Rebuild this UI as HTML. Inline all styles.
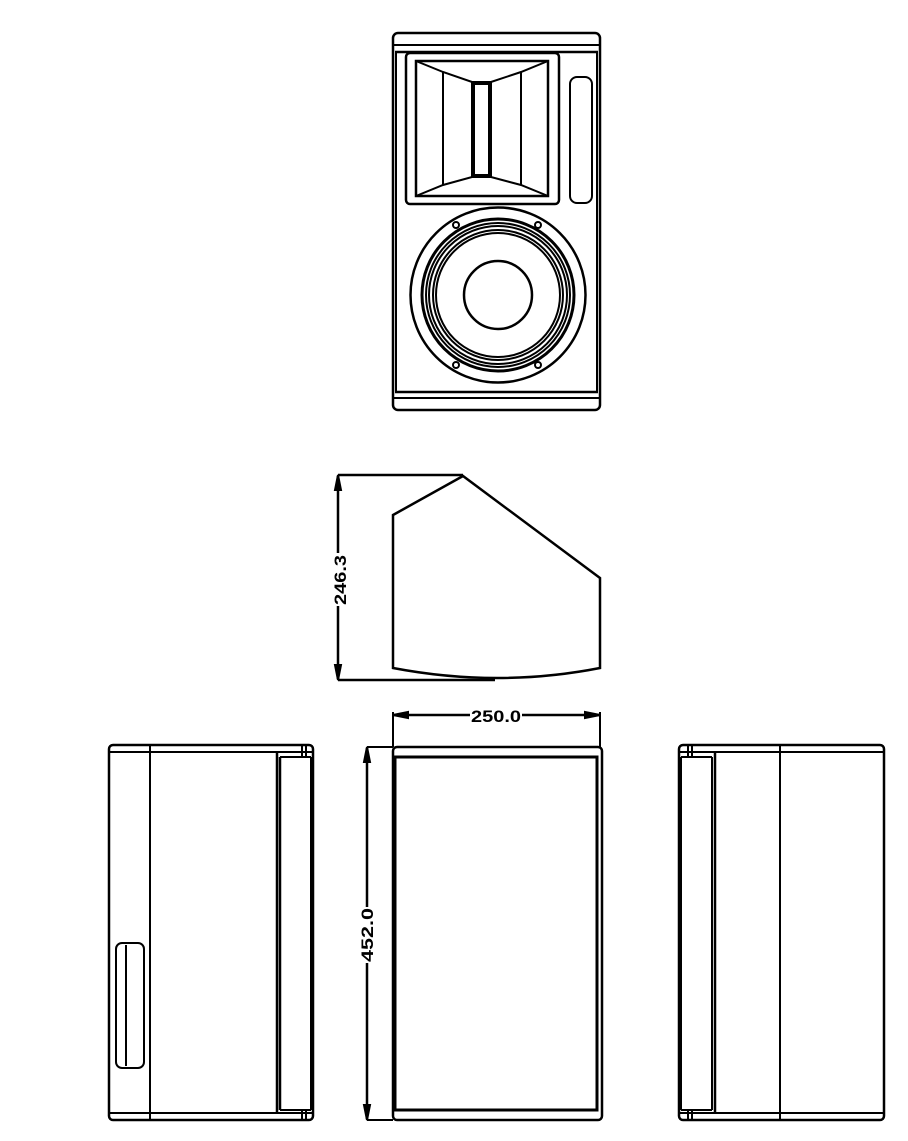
<!DOCTYPE html>
<html><head><meta charset="utf-8"><style>
html,body{margin:0;padding:0;background:#fff;}
svg{display:block;}
text{font-family:"Liberation Sans",sans-serif;font-size:17px;fill:#000;font-weight:bold;}
</style></head><body>
<svg width="908" height="1141" viewBox="0 0 908 1141" xmlns="http://www.w3.org/2000/svg" fill="none" stroke="#000" stroke-width="2">
<!-- FRONT VIEW -->
<rect x="393" y="33" width="207" height="377" rx="5" stroke-width="2.5"/>
<line x1="393" y1="45" x2="600" y2="45"/>
<line x1="395" y1="52" x2="598" y2="52" stroke-width="2.5"/>
<line x1="395" y1="392" x2="598" y2="392" stroke-width="2.5"/>
<line x1="393" y1="398" x2="600" y2="398"/>
<line x1="396" y1="52" x2="396" y2="392"/>
<line x1="597" y1="52" x2="597" y2="392"/>
<rect x="406" y="53" width="153" height="151" rx="4" stroke-width="2.5"/>
<rect x="416" y="61" width="132" height="135" stroke-width="2.5"/>
<polyline points="416,61 443,72 472,82 491,82 521,72 548,61"/>
<polyline points="416,196 443,185 472,177 491,177 521,185 548,196"/>
<line x1="443" y1="72" x2="443" y2="185"/>
<line x1="521" y1="72" x2="521" y2="185"/>
<rect x="472" y="82" width="19" height="95"/>
<rect x="474" y="84" width="15" height="91"/>
<rect x="570" y="77" width="22" height="126" rx="7"/>
<circle cx="498" cy="295" r="87.5" stroke-width="2.5"/>
<circle cx="498" cy="295" r="76" stroke-width="3"/>
<circle cx="498" cy="295" r="72"/>
<circle cx="498" cy="295" r="69"/>
<circle cx="498" cy="295" r="65"/>
<circle cx="498" cy="295" r="62"/>
<circle cx="498" cy="295" r="34" stroke-width="2.5"/>
<circle cx="456" cy="225" r="3"/>
<circle cx="538" cy="225" r="3"/>
<circle cx="456" cy="365" r="3"/>
<circle cx="538" cy="365" r="3"/>

<!-- SIDE PROFILE -->
<path d="M393,668 L393,515 L463,476 L600,578 L600,668 Q498,688 393,668 Z" stroke-width="2.5"/>
<line x1="338" y1="475" x2="463" y2="475" stroke-width="2.5"/>
<line x1="338" y1="680" x2="495" y2="680" stroke-width="2.5"/>
<line x1="338" y1="476" x2="338" y2="553" stroke-width="2.5"/>
<line x1="338" y1="606" x2="338" y2="679" stroke-width="2.5"/>
<polygon points="338,475 335,490 341,490" fill="#000"/>
<polygon points="338,680 335,665 341,665" fill="#000"/>
<text transform="translate(346,580) rotate(-90)" text-anchor="middle" textLength="50" lengthAdjust="spacingAndGlyphs" stroke="none">246.3</text>

<!-- 250 DIMENSION -->
<line x1="393" y1="715" x2="470" y2="715" stroke-width="2.5"/>
<line x1="522" y1="715" x2="600" y2="715" stroke-width="2.5"/>
<polygon points="393,715 408,712 408,718" fill="#000"/>
<polygon points="600,715 585,712 585,718" fill="#000"/>
<line x1="393" y1="712" x2="393" y2="747"/>
<line x1="600" y1="712" x2="600" y2="747"/>
<text x="496" y="722" text-anchor="middle" textLength="50" lengthAdjust="spacingAndGlyphs" stroke="none">250.0</text>

<!-- FRONT (GRILLE) VIEW -->
<rect x="393" y="747" width="209" height="373" rx="4" stroke-width="2.5"/>
<rect x="395" y="757" width="202" height="353" stroke-width="3"/>
<line x1="367" y1="747" x2="393" y2="747"/>
<line x1="367" y1="1120" x2="393" y2="1120"/>
<line x1="367" y1="748" x2="367" y2="907" stroke-width="2.5"/>
<line x1="367" y1="963" x2="367" y2="1119" stroke-width="2.5"/>
<polygon points="367,747 364,762 370,762" fill="#000"/>
<polygon points="367,1120 364,1105 370,1105" fill="#000"/>
<text transform="translate(373,935) rotate(-90)" text-anchor="middle" textLength="54" lengthAdjust="spacingAndGlyphs" stroke="none">452.0</text>

<!-- LEFT SIDE VIEW -->
<rect x="109" y="745" width="204" height="375" rx="4" stroke-width="2.5"/>
<line x1="109" y1="752" x2="313" y2="752"/>
<line x1="109" y1="1113" x2="313" y2="1113"/>
<line x1="150" y1="745" x2="150" y2="1120"/>
<line x1="277" y1="752" x2="277" y2="1113" stroke-width="2.5"/>
<line x1="280" y1="757" x2="280" y2="1110" stroke-width="2.5"/>
<line x1="280" y1="757" x2="311" y2="757"/>
<line x1="280" y1="1110" x2="311" y2="1110"/>
<line x1="311" y1="757" x2="311" y2="1110"/>
<line x1="302" y1="745" x2="302" y2="757"/>
<line x1="306" y1="745" x2="306" y2="757"/>
<line x1="302" y1="1110" x2="302" y2="1120"/>
<line x1="306" y1="1110" x2="306" y2="1120"/>
<rect x="116" y="943" width="28" height="125" rx="6"/>
<line x1="126" y1="945" x2="126" y2="1066"/>

<!-- RIGHT SIDE VIEW -->
<rect x="679" y="745" width="205" height="375" rx="4" stroke-width="2.5"/>
<line x1="679" y1="752" x2="884" y2="752"/>
<line x1="679" y1="1113" x2="884" y2="1113"/>
<line x1="780" y1="745" x2="780" y2="1120"/>
<line x1="715" y1="752" x2="715" y2="1113" stroke-width="2.5"/>
<line x1="712" y1="757" x2="712" y2="1110"/>
<line x1="681" y1="757" x2="712" y2="757"/>
<line x1="681" y1="1110" x2="712" y2="1110"/>
<line x1="681" y1="757" x2="681" y2="1110"/>
<line x1="688" y1="745" x2="688" y2="757"/>
<line x1="692" y1="745" x2="692" y2="757"/>
<line x1="688" y1="1110" x2="688" y2="1120"/>
<line x1="692" y1="1110" x2="692" y2="1120"/>
</svg>
</body></html>
